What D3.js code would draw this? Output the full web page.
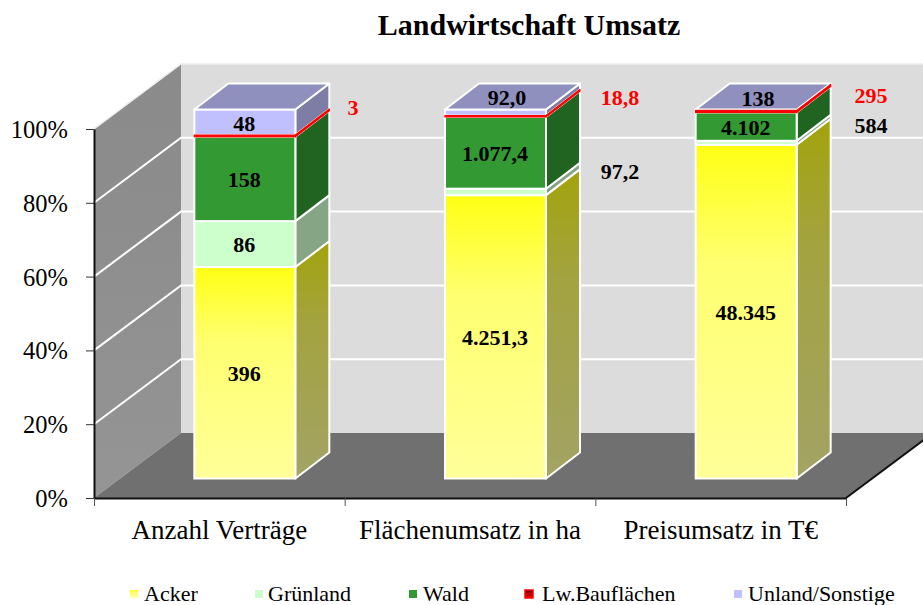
<!DOCTYPE html>
<html><head><meta charset="utf-8">
<script src="https://cdnjs.cloudflare.com/ajax/libs/d3/7.8.5/d3.min.js"></script>
<style>html,body{margin:0;background:#fff}svg{display:block}text{font-family:"Liberation Serif",serif}</style>
</head><body><svg id="c" width="923" height="605"></svg>
<script>
const categories = ["Anzahl Verträge", "Flächenumsatz in ha", "Preisumsatz in T€"];
const seriesNames = ["Acker", "Grünland", "Wald", "Lw.Bauflächen", "Unland/Sonstige"];
const acker = [396, 4251.3, 48345];
const gruenland = [86, 97.2, 584];
const wald = [158, 1077.4, 4102];
const bauflaechen = [3, 18.8, 295];
const unland = [48, 92.0, 138];
const labelTexts = [
  ["396", "4.251,3", "48.345"],
  ["86", "97,2", "584"],
  ["158", "1.077,4", "4.102"],
  ["3", "18,8", "295"],
  ["48", "92,0", "138"]
];
const yTicks = [0, .2, .4, .6, .8, 1];

// layout
const X0 = 94, X1 = 846, Y0 = 498, Y1 = 129;
const wallDX = 87, wallDY = -65, barDX = 34, barDY = -26, barLift = 19.5, barShift = 25.5, barW = 101;
const faces = [
  {front:"url(#gYellow)", side:"url(#gYellowSide)"},
  {front:"#ccffcc", side:"#85a585"},
  {front:"#339933", side:"#216421"},
  {front:"#ff0000", side:"#d00000"},
  {front:"#c0c0ff", side:"#7d7da6"}
];
const topFace = "#9090bf";
const legendItems = [[130,144],[255,268],[409,423],[525,542],[734,748]];
// labels that the chart moved away from their segment: [series, category, x, y]
const moved = [[3,0,353,108],[3,1,620,98],[3,2,871,96],[1,1,620,172],[1,2,871,126],[4,1,507,98],[4,2,758,99]];

const svg = d3.select("#c");
const defs = svg.append("defs");
function grad(id, c1, c2, c3){
  const g = defs.append("linearGradient").attr("id",id).attr("x1",0).attr("x2",0).attr("y1",0).attr("y2",1);
  g.append("stop").attr("offset","0%").attr("stop-color",c1);
  g.append("stop").attr("offset","35%").attr("stop-color",c2);
  g.append("stop").attr("offset","100%").attr("stop-color",c3);
}
grad("gYellow","#ffff14","#ffff70","#ffff99");
grad("gYellowSide","#a3a30c","#a3a340","#a3a365");
grad("gWall","#8b8b8b","#8d8d8d","#959595");
grad("gSwatch","#ffff20","#ffff70","#ffffb0");
grad("gRed","#400000","#b00000","#ee0000");

const y = d3.scaleLinear().domain([0,1]).range([Y0,Y1]);
const xEdge = d3.scaleLinear().domain([0,3]).range([X0,X1]);
const xBand = d3.scaleBand().domain(categories).range([X0,X1]);
const poly = (g,pts,fill,stroke,sw)=>g.append("polygon").attr("points",pts.map(p=>p.join(",")).join(" "))
  .attr("fill",fill).attr("stroke",stroke||"none").attr("stroke-width",sw||0).attr("stroke-linejoin","round");

// walls and floor
const walls = svg.append("g");
const backTop = y(1)+wallDY, backBottom = y(0)+wallDY, backX = X0+wallDX;
walls.append("rect").attr("x",backX).attr("y",backTop).attr("width",923-backX).attr("height",backBottom-backTop).attr("fill","#dcdcdc");
poly(walls,[[X0,y(1)],[backX,backTop],[backX,backBottom],[X0,y(0)]],"url(#gWall)");
poly(walls,[[X0,y(0)],[X1,y(0)],[X1+wallDX,y(0)+wallDY],[backX,backBottom]],"#707070");
// clipped by the page edge at the right
yTicks.filter(t=>t>0).forEach(t=>{
  walls.append("path").attr("d",d3.line()([[X0,y(t)],[backX,y(t)+wallDY],[923,y(t)+wallDY]]))
    .attr("fill","none").attr("stroke",t===1?"#ececec":"#fff").attr("stroke-width",t===1?1.5:2);
});

// axes
const axL = svg.append("g").attr("transform",`translate(${X0},0)`)
  .call(d3.axisLeft(y).tickValues(yTicks).tickFormat(d3.format(".0%")).tickSize(8).tickSizeOuter(0));
axL.select(".domain").attr("stroke","#111").attr("stroke-width",2);
axL.selectAll(".tick line").attr("stroke","#333");
axL.selectAll(".tick text").attr("x",-26).attr("dy","0.35em").attr("font-size",24.5).attr("fill","#000");
const axB = svg.append("g").attr("transform",`translate(0,${Y0})`)
  .call(d3.axisBottom(xEdge).tickValues([0,1,2,3]).tickFormat("").tickSize(8).tickSizeOuter(0));
axB.select(".domain").attr("stroke","#111").attr("stroke-width",2);
axB.selectAll(".tick line").attr("stroke","#555");
svg.append("path").attr("d",d3.line()([[X1,Y0],[X1+wallDX,Y0+wallDY]])).attr("stroke","#111").attr("stroke-width",2).attr("fill","none");

// bars
const series = [acker,gruenland,wald,bauflaechen,unland];
const stacked = d3.stack().keys(d3.range(5)).value((d,k)=>series[k][d]).offset(d3.stackOffsetExpand)(d3.range(3));
const barsG = svg.append("g");
categories.forEach((cat,ci)=>{
  const fx = xBand(cat)+xBand.bandwidth()/2+barShift-barW/2, rx = fx+barW;
  const yf = p=>y(p)-barLift;
  const drawSeg = si=>{
    const [a,b] = stacked[si][ci];
    const bot = yf(a), top = yf(b);
    const st = si===3?"#ff0000":"#fff", sw = si===3?1.3:2;
    poly(barsG,[[rx,bot],[rx+barDX,bot+barDY],[rx+barDX,top+barDY],[rx,top]],faces[si].side,st,sw);
    barsG.append("rect").attr("x",fx).attr("y",top).attr("width",barW).attr("height",bot-top)
      .attr("fill",faces[si].front).attr("stroke",st).attr("stroke-width",sw);
  };
  [0,1,2,4].forEach(drawSeg);
  const t = yf(1);
  poly(barsG,[[fx,t],[rx,t],[rx+barDX,t+barDY],[fx+barDX,t+barDY]],topFace,"#fff",2);
  drawSeg(3);
});

// labels
const lab = svg.append("g").attr("font-weight","bold").attr("font-size",22).attr("text-anchor","middle");
stacked.forEach((layer,si)=>{
  categories.forEach((cat,ci)=>{
    const m = moved.find(d=>d[0]===si&&d[1]===ci);
    const cx = xBand(cat)+xBand.bandwidth()/2+barShift;
    const cy = (y(layer[ci][0])+y(layer[ci][1]))/2-barLift;
    lab.append("text").attr("x",m?m[2]:cx-0.5).attr("y",m?m[3]:cy+1).attr("dy","0.33em")
      .attr("fill",si===3?"#ff0000":"#000").text(labelTexts[si][ci]);
  });
});

// title and category labels
svg.append("text").attr("x",529).attr("y",35).attr("text-anchor","middle").attr("font-weight","bold").attr("font-size",30).text("Landwirtschaft Umsatz");
svg.append("g").selectAll("text").data(categories).join("text")
  .attr("x",d=>xBand(d)+xBand.bandwidth()/2).attr("y",539).attr("text-anchor","middle").attr("font-size",27).text(d=>d);

// legend
const swatch = ["url(#gSwatch)","#ccffcc","#339933","url(#gRed)","#c0c0ff"];
const leg = svg.append("g");
seriesNames.forEach((n,i)=>{
  const [sx,tx] = legendItems[i];
  leg.append("rect").attr("x",sx).attr("y",590).attr("width",8).attr("height",8).attr("fill",swatch[i])
    .attr("stroke",i===3?"#ff0000":"none").attr("stroke-width",i===3?1.5:0);
  leg.append("text").attr("x",tx).attr("y",601).attr("font-size",22).text(n);
});
</script></body></html>
